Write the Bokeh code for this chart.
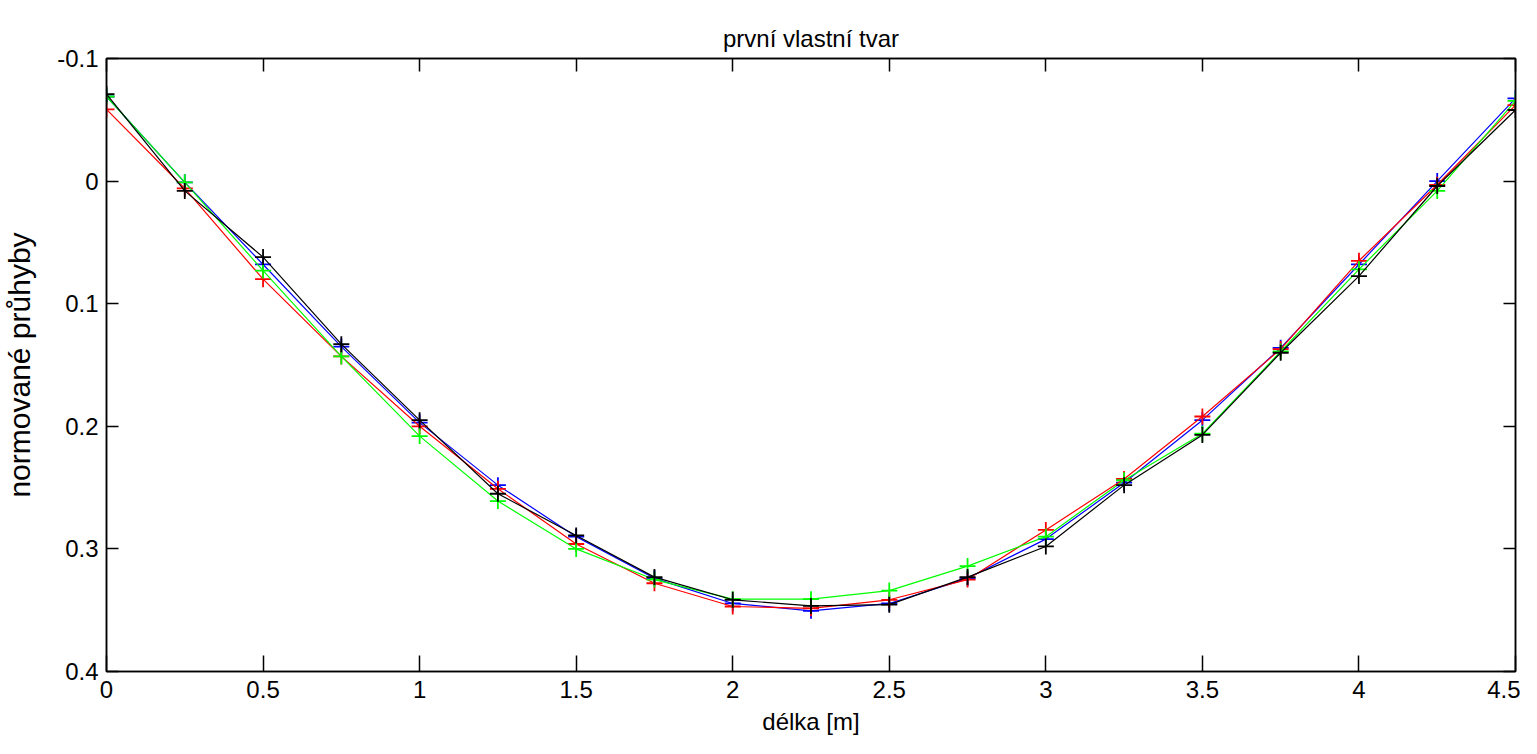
from bokeh.plotting import figure
from bokeh.models import Range1d, LinearAxis, FixedTicker
from bokeh.embed import file_html
from bokeh.resources import INLINE

# ---- data ----
x_pos = [0, 0.25, 0.5, 0.75, 1.0, 1.25, 1.5, 1.75, 2.0, 2.25, 2.5, 2.75, 3.0, 3.25, 3.5, 3.75, 4.0, 4.25, 4.5]
blue_vals = [-0.069, 0.001, 0.068, 0.135, 0.197, 0.248, 0.290, 0.324, 0.3445, 0.3505, 0.3445, 0.324, 0.292, 0.246, 0.195, 0.136, 0.068, 0.000, -0.0675]
red_vals = [-0.0585, 0.006, 0.080, 0.143, 0.200, 0.251, 0.296, 0.328, 0.347, 0.3485, 0.3415, 0.325, 0.2845, 0.243, 0.192, 0.137, 0.065, 0.003, -0.062]
green_vals = [-0.069, 0.001, 0.073, 0.143, 0.208, 0.261, 0.300, 0.325, 0.341, 0.341, 0.334, 0.314, 0.290, 0.244, 0.206, 0.139, 0.072, 0.008, -0.0655]
black_vals = [-0.071, 0.008, 0.062, 0.133, 0.195, 0.255, 0.289, 0.323, 0.3415, 0.3465, 0.3455, 0.323, 0.298, 0.248, 0.207, 0.140, 0.0775, 0.004, -0.058]

x_ticks = [0, 0.5, 1, 1.5, 2, 2.5, 3, 3.5, 4, 4.5]
x_tick_labels = ["0", "0.5", "1", "1.5", "2", "2.5", "3", "3.5", "4", "4.5"]
y_ticks = [-0.1, 0, 0.1, 0.2, 0.3, 0.4]
y_tick_labels = ["-0.1", "0", "0.1", "0.2", "0.3", "0.4"]

title_text = "první vlastní tvar"
x_label = "délka [m]"
y_label = "normované průhyby"

FONT = "Liberation Sans"
FS = "24px"

p = figure(width=1520, height=746, output_backend="svg", toolbar_location=None,
           x_range=Range1d(0, 4.5), y_range=Range1d(0.4, -0.1),
           min_border_left=99, min_border_right=5, min_border_top=58, min_border_bottom=75,
           title=title_text)
p.title.align = "center"
p.title.text_font = FONT
p.title.text_font_size = FS
p.title.text_font_style = "normal"
p.title.text_color = "black"
p.title.standoff = 14

p.grid.visible = False
p.outline_line_color = "black"
p.outline_line_width = 1.5
p.background_fill_color = "white"
p.border_fill_color = "white"

def style_axis(ax, ticks, labels, show_labels, tick_in):
    ax.ticker = FixedTicker(ticks=ticks)
    ax.major_tick_in = tick_in
    ax.major_tick_out = 0
    ax.minor_tick_in = 0
    ax.minor_tick_out = 0
    ax.axis_line_color = "black"
    ax.axis_line_width = 1.5
    ax.major_tick_line_color = "black"
    ax.major_tick_line_width = 1.5
    ax.major_label_text_font = FONT
    ax.major_label_text_color = "black"
    if show_labels:
        ax.major_label_overrides = {t: l for t, l in zip(ticks, labels)}
        ax.major_label_text_font_size = FS
    else:
        ax.major_label_overrides = {t: "" for t in ticks}
        ax.major_label_text_font_size = "1px"
        ax.major_label_standoff = 0
        ax.axis_label_standoff = 0

style_axis(p.xaxis[0], x_ticks, x_tick_labels, True, 16)
style_axis(p.yaxis[0], y_ticks, y_tick_labels, True, 12)
p.xaxis[0].major_label_standoff = 9
p.yaxis[0].major_label_standoff = 8

p.xaxis[0].axis_label = x_label
p.xaxis[0].axis_label_text_font = FONT
p.xaxis[0].axis_label_text_font_size = FS
p.xaxis[0].axis_label_text_font_style = "normal"
p.xaxis[0].axis_label_text_color = "black"
p.xaxis[0].axis_label_standoff = 7

p.yaxis[0].axis_label = y_label
p.yaxis[0].axis_label_text_font = FONT
p.yaxis[0].axis_label_text_font_size = "30px"
p.yaxis[0].axis_label_text_font_style = "normal"
p.yaxis[0].axis_label_text_color = "black"
p.yaxis[0].axis_label_standoff = 18

top_ax = LinearAxis()
style_axis(top_ax, x_ticks, x_tick_labels, False, 13)
p.add_layout(top_ax, "above")
right_ax = LinearAxis()
style_axis(right_ax, y_ticks, y_tick_labels, False, 12)
p.add_layout(right_ax, "right")

series = [(blue_vals, "#0000ff"), (red_vals, "#ff0000"), (green_vals, "#00ff00"), (black_vals, "#000000")]
for vals, col in series:
    p.line(x_pos, vals, line_color=col, line_width=1.2)
    p.scatter(x_pos, vals, marker="cross", size=16, line_color=col, line_width=1.8)

open("out.html", "w").write(file_html(p, INLINE))
